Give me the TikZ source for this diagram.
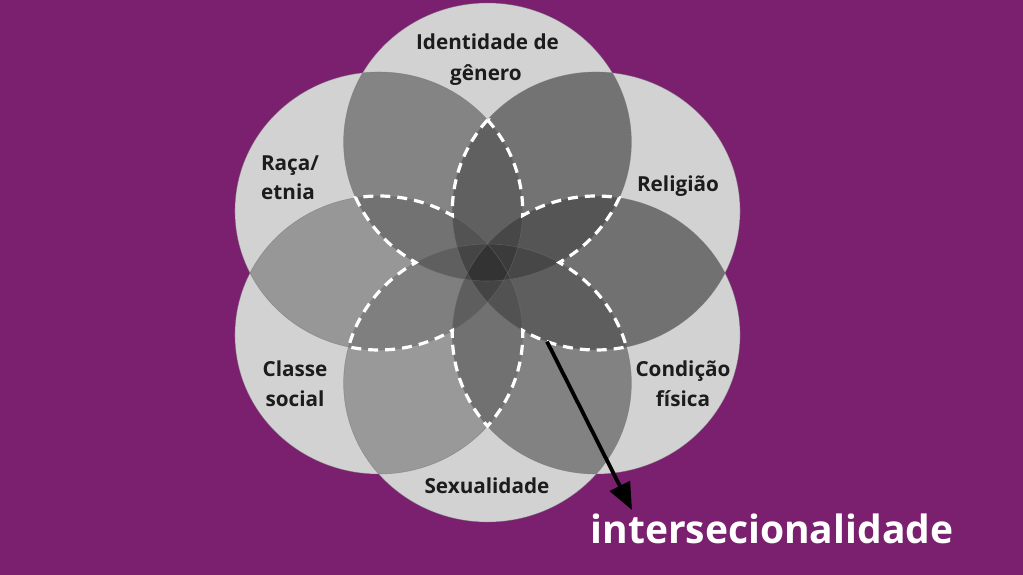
\documentclass[tikz,border=0pt]{standalone}
\usepackage{fontspec}
\setmainfont{Open Sans}
\usetikzlibrary{arrows.meta}
\definecolor{bgpurple}{RGB}{123,31,111}
\definecolor{lightdisk}{RGB}{210,210,210}
\definecolor{labelink}{RGB}{28,28,28}
\tikzset{
  lbl/.style={font=\bfseries\fontsize{20.7}{25}\selectfont, text=labelink, anchor=base, inner sep=0pt},
  bigword/.style={font=\bfseries\fontsize{39}{46}\selectfont, text=white, anchor=base, inner sep=0pt},
  rim/.style={draw=black!55, line width=0.6pt, draw opacity=0.5},
  starline/.style={draw=white, line width=3.2pt, dash pattern=on 10pt off 7pt},
  pointer/.style={draw=black, line width=3.8pt, -{Triangle[length=27pt,width=22pt]}},
}
\begin{document}
\begin{tikzpicture}[x=1pt,y=-1pt]
\fill[bgpurple] (0,0) rectangle (1023,575);
\useasboundingbox (0,0) rectangle (1023,575);
\begin{scope}[shift={(487.5,0)}, x={(1.035pt,0pt)}, y={(0pt,-1pt)}]
  \def\rad{139}
  \coordinate (cT)  at (0,142);
  \coordinate (cB)  at (0,383);
  \coordinate (cUL) at (-105,211);
  \coordinate (cUR) at (105,211);
  \coordinate (cLL) at (-105,335);
  \coordinate (cLR) at (105,335);
  % light base: union of all circles
  \fill[lightdisk] (cT) circle[radius=\rad] (cB) circle[radius=\rad]
    (cUL) circle[radius=\rad] (cUR) circle[radius=\rad]
    (cLL) circle[radius=\rad] (cLR) circle[radius=\rad];
  % darkening where circles overlap
  \begin{scope}
    \clip (cB) circle[radius=\rad] (cUL) circle[radius=\rad] (cUR) circle[radius=\rad] (cLL) circle[radius=\rad] (cLR) circle[radius=\rad];
    \fill[black, fill opacity=0.24] (cT) circle[radius=\rad];
  \end{scope}
  \begin{scope}
    \clip (cT) circle[radius=\rad] (cUL) circle[radius=\rad] (cUR) circle[radius=\rad] (cLL) circle[radius=\rad] (cLR) circle[radius=\rad];
    \fill[black, fill opacity=0.16] (cB) circle[radius=\rad];
  \end{scope}
  \begin{scope}
    \clip (cT) circle[radius=\rad] (cB) circle[radius=\rad] (cUR) circle[radius=\rad] (cLL) circle[radius=\rad] (cLR) circle[radius=\rad];
    \fill[black, fill opacity=0.17] (cUL) circle[radius=\rad];
  \end{scope}
  \begin{scope}
    \clip (cT) circle[radius=\rad] (cB) circle[radius=\rad] (cUL) circle[radius=\rad] (cLL) circle[radius=\rad] (cLR) circle[radius=\rad];
    \fill[black, fill opacity=0.27] (cUR) circle[radius=\rad];
  \end{scope}
  \begin{scope}
    \clip (cT) circle[radius=\rad] (cB) circle[radius=\rad] (cUL) circle[radius=\rad] (cUR) circle[radius=\rad] (cLR) circle[radius=\rad];
    \fill[black, fill opacity=0.13] (cLL) circle[radius=\rad];
  \end{scope}
  \begin{scope}
    \clip (cT) circle[radius=\rad] (cB) circle[radius=\rad] (cUL) circle[radius=\rad] (cUR) circle[radius=\rad] (cLL) circle[radius=\rad];
    \fill[black, fill opacity=0.26] (cLR) circle[radius=\rad];
  \end{scope}
  % circle rims
  \foreach \c in {cT,cB,cUL,cUR,cLL,cLR} \draw[rim] (\c) circle[radius=\rad];
  % dashed outline of the six-pointed intersection star
  \draw[starline] (0,119.92)
    arc[start angle=-40.94, end angle=1.88, radius=\rad]
    arc[start angle=-120.76, end angle=-80.77, radius=\rad]
    arc[start angle=23.67, end angle=60.10, radius=\rad]
    arc[start angle=-60.10, end angle=-15.06, radius=\rad]
    arc[start angle=77.87, end angle=120.76, radius=\rad]
    arc[start angle=-1.88, end angle=40.94, radius=\rad]
    arc[start angle=139.06, end angle=181.88, radius=\rad]
    arc[start angle=59.24, end angle=102.13, radius=\rad]
    arc[start angle=195.06, end angle=240.10, radius=\rad]
    arc[start angle=119.90, end angle=156.33, radius=\rad]
    arc[start angle=260.77, end angle=300.76, radius=\rad]
    arc[start angle=178.12, end angle=220.94, radius=\rad] -- cycle;
  \coordinate (a0) at (57.5,341.6);
  \coordinate (a1) at (139.6,510);
\end{scope}
% labels
\node[lbl] (tId1) at (487.5,50) {Identidade de};
\node[lbl] (tId2) at (486,81) {gênero};
\node[lbl] (tRa1) at (290,171) {Raça/};
\node[lbl] (tRa2) at (288,199) {etnia};
\node[lbl] (tRel) at (678,191) {Religião};
\node[lbl] (tCl1) at (295,376) {Classe};
\node[lbl] (tCl2) at (295,406) {social};
\node[lbl] (tCo1) at (683,376) {Condição};
\node[lbl] (tCo2) at (683,406) {física};
\node[lbl] (tSex) at (487,493) {Sexualidade};
\node[bigword] (tInter) at (772,543) {intersecionalidade};
\draw[pointer] (a0) -- (a1);
\end{tikzpicture}
\end{document}
